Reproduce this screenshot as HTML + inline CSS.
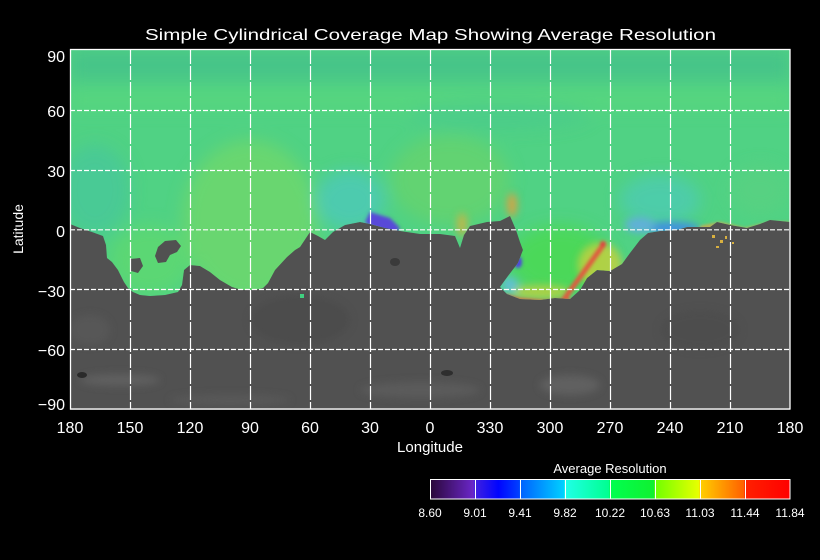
<!DOCTYPE html>
<html><head><meta charset="utf-8"><style>
html,body{margin:0;padding:0;background:#000;width:820px;height:560px;overflow:hidden}
svg{display:block}
text{font-family:"Liberation Sans",sans-serif;fill:#fff}
</style></head><body>
<svg width="820" height="560" viewBox="0 0 820 560" xmlns="http://www.w3.org/2000/svg">
<defs>
<filter id="b4" x="-50%" y="-50%" width="200%" height="200%"><feGaussianBlur stdDeviation="4"/></filter>
<filter id="b8" x="-50%" y="-50%" width="200%" height="200%"><feGaussianBlur stdDeviation="8"/></filter>
<filter id="b2" x="-50%" y="-50%" width="200%" height="200%"><feGaussianBlur stdDeviation="1.5"/></filter>
<clipPath id="cov"><path d="M70,50 L790,50 L790,222 L770,220 L760,224 L747,228 L730,225 L717,222 L710,227 L687,227 L677,230 L660,231 L648,233 L640,240 L630,253 L622,264 L610,271 L597,270 L587,278 L580,290 L570,299 L555,298 L540,300 L520,299 L507,294 L500,287 L508,276 L518,263 L523,250 L520,242 L516,230 L510,216 L500,221 L487,222 L470,226 L464,235 L460,248 L455,236 L440,234 L420,234 L400,231 L385,228 L370,224 L360,222 L345,225 L333,232 L325,240 L318,236 L310,232 L306,238 L300,247 L295,250 L287,257 L275,270 L268,283 L263,288 L255,290 L242,290 L232,287 L220,280 L210,272 L200,266 L190,265 L184,270 L182,285 L178,292 L165,295 L150,296 L140,295 L133,292 L128,288 L124,282 L118,270 L112,262 L107,258 L106,245 L103,236 L92,232 L80,228 L70,224 Z"/></clipPath>
<clipPath id="plot"><rect x="70" y="50" width="720" height="360"/></clipPath>
<linearGradient id="cb" x1="430" x2="790" y1="0" y2="0" gradientUnits="userSpaceOnUse">
<stop offset="0" stop-color="#2a0838"/><stop offset="0.12" stop-color="#6a26c8"/>
<stop offset="0.125" stop-color="#4020e0"/><stop offset="0.19" stop-color="#0004ff"/><stop offset="0.248" stop-color="#0040ff"/>
<stop offset="0.25" stop-color="#0060ff"/><stop offset="0.372" stop-color="#00d0ff"/>
<stop offset="0.375" stop-color="#20ffe8"/><stop offset="0.497" stop-color="#00ff90"/>
<stop offset="0.5" stop-color="#00ff50"/><stop offset="0.622" stop-color="#10f030"/>
<stop offset="0.625" stop-color="#70ff00"/><stop offset="0.747" stop-color="#e8ff00"/>
<stop offset="0.75" stop-color="#ffd000"/><stop offset="0.872" stop-color="#ff6000"/>
<stop offset="0.875" stop-color="#ff2000"/><stop offset="1" stop-color="#ff0000"/>
</linearGradient>
</defs>
<rect width="820" height="560" fill="#000"/>

<g clip-path="url(#plot)">
<rect x="70" y="50" width="720" height="360" fill="#515151"/>
<g filter="url(#b4)" opacity="0.6">
<ellipse cx="120" cy="380" rx="40" ry="6" fill="#6a6a6a"/>
<ellipse cx="300" cy="320" rx="50" ry="25" fill="#4a4a4a"/>
<ellipse cx="420" cy="390" rx="60" ry="8" fill="#626262"/>
<ellipse cx="570" cy="385" rx="30" ry="10" fill="#6a6a6a"/>
<ellipse cx="700" cy="330" rx="40" ry="20" fill="#4c4c4c"/>
<ellipse cx="230" cy="400" rx="60" ry="5" fill="#5e5e5e"/>
<ellipse cx="90" cy="330" rx="20" ry="15" fill="#5c5c5c"/>
</g>
<ellipse cx="82" cy="375" rx="5" ry="3" fill="#2a2a2a"/>
<ellipse cx="447" cy="373" rx="6" ry="3" fill="#2e2e2e"/>
<ellipse cx="395" cy="262" rx="5" ry="4" fill="#3a3a3a"/>
</g>

<g clip-path="url(#cov)">
<rect x="70" y="50" width="720" height="260" fill="#50d284"/>
<g filter="url(#b8)">
<rect x="70" y="50" width="720" height="30" fill="#46c488"/>
<rect x="70" y="90" width="720" height="20" fill="#5ad87a" opacity="0.6"/>
<ellipse cx="250" cy="220" rx="68" ry="80" fill="#76d866" opacity="0.65"/>
<ellipse cx="150" cy="260" rx="40" ry="35" fill="#5ed870" opacity="0.8"/>
<ellipse cx="95" cy="190" rx="35" ry="45" fill="#46c69c" opacity="0.7"/>
<ellipse cx="350" cy="200" rx="35" ry="30" fill="#4cc8c0" opacity="0.7"/>
<ellipse cx="450" cy="180" rx="60" ry="45" fill="#74d460" opacity="0.5"/>
<ellipse cx="560" cy="260" rx="50" ry="35" fill="#4ada50" opacity="0.8"/>
<ellipse cx="660" cy="200" rx="40" ry="25" fill="#4cc8c8" opacity="0.55"/>
<ellipse cx="760" cy="190" rx="30" ry="25" fill="#5cd080" opacity="0.6"/>
<ellipse cx="500" cy="115" rx="90" ry="15" fill="#48c890" opacity="0.5"/>
</g>
<g filter="url(#b4)">
<ellipse cx="600" cy="265" rx="22" ry="22" fill="#c8d040" opacity="0.8"/>
<ellipse cx="540" cy="292" rx="30" ry="7" fill="#c0d040" opacity="0.8"/>
<ellipse cx="670" cy="228" rx="30" ry="6" fill="#4090e0"/>
<ellipse cx="640" cy="225" rx="15" ry="8" fill="#60b0d8"/>
<ellipse cx="512" cy="205" rx="5" ry="12" fill="#e0a040" opacity="0.9"/>
<ellipse cx="462" cy="225" rx="5" ry="12" fill="#d8b040" opacity="0.8"/>
<ellipse cx="510" cy="285" rx="8" ry="8" fill="#60c0d0"/>
</g>
<g filter="url(#b2)">
<path d="M370,212 L390,218 L400,228 L395,234 L375,230 L365,222 Z" fill="#5848d8"/>
<line x1="604" y1="244" x2="562" y2="302" stroke="#e05a40" stroke-width="5"/>
<path d="M505,296 L520,300 L545,302 L570,300" stroke="#e06040" stroke-width="4" fill="none"/>
<ellipse cx="518" cy="262" rx="4" ry="6" fill="#5040e0"/>
<path d="M700,228 L720,224 L745,230 L770,224 L790,224" stroke="#e8a040" stroke-width="3" fill="none"/>
<ellipse cx="603" cy="244" rx="3" ry="3" fill="#e04040"/>
</g>
</g>
<path d="M130,259 L140,258 L143,266 L138,273 L131,271 Z" fill="#515151"/>
<path d="M158,247 L165,241 L176,240 L181,246 L177,252 L170,255 L166,262 L158,263 L155,256 Z" fill="#515151"/>
<g fill="#d8b040">
<rect x="712" y="235" width="3" height="3"/><rect x="720" y="240" width="3" height="3"/><rect x="716" y="246" width="3" height="2"/><rect x="725" y="236" width="2" height="3"/><rect x="732" y="242" width="2" height="2"/>
</g>
<rect x="300" y="294" width="4" height="4" fill="#40d080"/>

<g stroke="#fff" stroke-width="1.2">
<g stroke-dasharray="5,2">
<line x1="70" y1="110.5" x2="790" y2="110.5"/>
<line x1="70" y1="170.5" x2="790" y2="170.5"/>
<line x1="70" y1="229.8" x2="790" y2="229.8"/>
<line x1="70" y1="289.5" x2="790" y2="289.5"/>
<line x1="70" y1="349.5" x2="790" y2="349.5"/>
</g>
<g stroke-dasharray="14,2">
<line x1="130.5" y1="50" x2="130.5" y2="409"/>
<line x1="190.5" y1="50" x2="190.5" y2="409"/>
<line x1="250.5" y1="50" x2="250.5" y2="409"/>
<line x1="310.5" y1="50" x2="310.5" y2="409"/>
<line x1="370.5" y1="50" x2="370.5" y2="409"/>
<line x1="430.5" y1="50" x2="430.5" y2="409"/>
<line x1="490.5" y1="50" x2="490.5" y2="409"/>
<line x1="550.5" y1="50" x2="550.5" y2="409"/>
<line x1="610.5" y1="50" x2="610.5" y2="409"/>
<line x1="670.5" y1="50" x2="670.5" y2="409"/>
<line x1="730.5" y1="50" x2="730.5" y2="409"/>
</g>
<rect x="70.5" y="49.5" width="719.5" height="359.5" fill="none" stroke-width="1.3"/>
</g>

<text x="145" y="40" font-size="16" textLength="571" lengthAdjust="spacingAndGlyphs">Simple Cylindrical Coverage Map Showing Average Resolution</text>

<g font-size="16" text-anchor="end">
<text x="65" y="62">90</text>
<text x="65" y="117">60</text>
<text x="65" y="177">30</text>
<text x="65" y="237">0</text>
<text x="65" y="297">−30</text>
<text x="65" y="356">−60</text>
<text x="65" y="410">−90</text>
</g>
<text transform="translate(23,229) rotate(-90)" font-size="14" text-anchor="middle">Latitude</text>

<g font-size="16" text-anchor="middle">
<text x="70" y="433">180</text>
<text x="130" y="433">150</text>
<text x="190" y="433">120</text>
<text x="250" y="433">90</text>
<text x="310" y="433">60</text>
<text x="370" y="433">30</text>
<text x="430" y="433">0</text>
<text x="490" y="433">330</text>
<text x="550" y="433">300</text>
<text x="610" y="433">270</text>
<text x="670" y="433">240</text>
<text x="730" y="433">210</text>
<text x="790" y="433">180</text>
</g>
<text x="430" y="452" font-size="15" text-anchor="middle">Longitude</text>

<text x="610" y="473" font-size="13" text-anchor="middle">Average Resolution</text>
<rect x="430.5" y="479.5" width="359.5" height="19.5" fill="url(#cb)" stroke="#fff" stroke-width="1"/>
<g stroke="#fff" stroke-width="1">
<line x1="475.5" y1="480" x2="475.5" y2="499"/>
<line x1="520.5" y1="480" x2="520.5" y2="499"/>
<line x1="565.5" y1="480" x2="565.5" y2="499"/>
<line x1="610.5" y1="480" x2="610.5" y2="499"/>
<line x1="655.5" y1="480" x2="655.5" y2="499"/>
<line x1="700.5" y1="480" x2="700.5" y2="499"/>
<line x1="745.5" y1="480" x2="745.5" y2="499"/>
</g>
<g font-size="12" text-anchor="middle">
<text x="430" y="517">8.60</text>
<text x="475" y="517">9.01</text>
<text x="520" y="517">9.41</text>
<text x="565" y="517">9.82</text>
<text x="610" y="517">10.22</text>
<text x="655" y="517">10.63</text>
<text x="700" y="517">11.03</text>
<text x="745" y="517">11.44</text>
<text x="790" y="517">11.84</text>
</g>
</svg>
</body></html>
